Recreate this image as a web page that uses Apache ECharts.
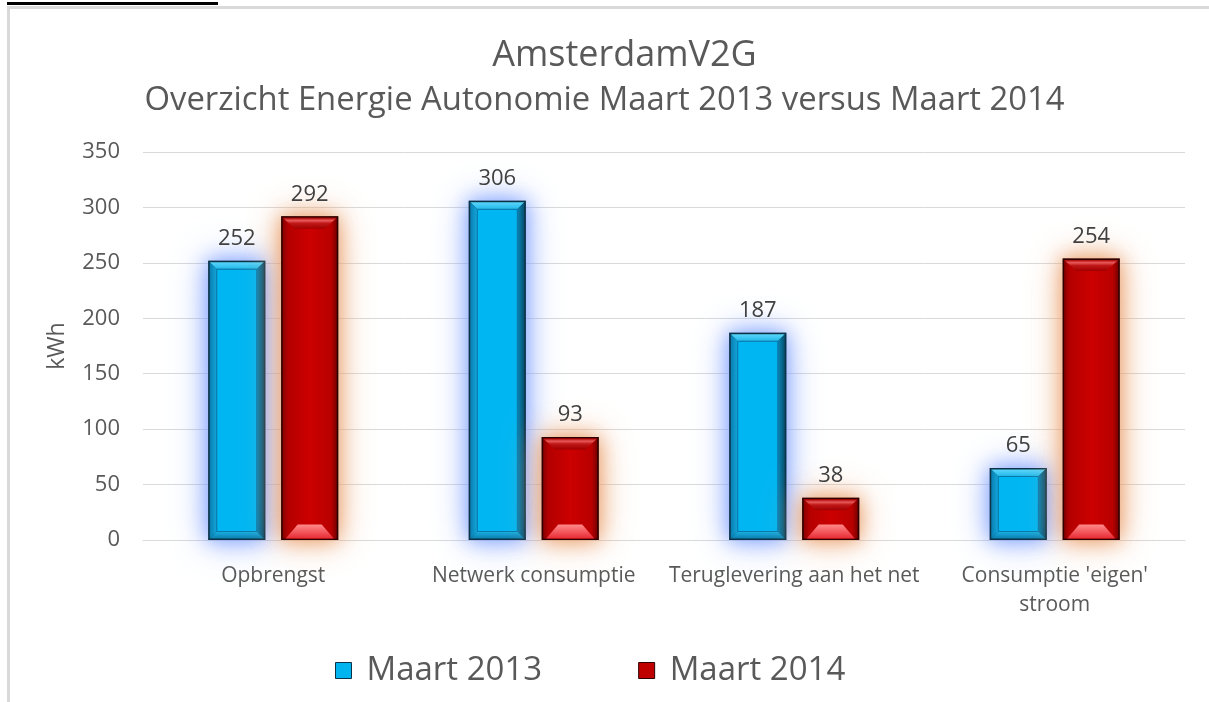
<!DOCTYPE html>
<html><head><meta charset="utf-8">
<script src="https://cdn.jsdelivr.net/npm/echarts@6/dist/echarts.min.js"></script>
<style>html,body{margin:0;padding:0;background:#fff}#c{width:1209px;height:702px}</style>
</head><body><div id="c"></div>
<script>
const categories = ['Opbrengst', 'Netwerk consumptie', 'Teruglevering aan het net', "Consumptie 'eigen'\nstroom"];
const maart2013 = [252, 306, 187, 65];
const maart2014 = [292, 93, 38, 254];
const seriesNames = ['Maart 2013', 'Maart 2014'];
const titleLine1 = 'AmsterdamV2G';
const titleLine2 = 'Overzicht Energie Autonomie Maart 2013 versus Maart 2014';
const yName = 'kWh';

const FONT = 'Open Sans';
const chart = echarts.init(document.getElementById('c'), null, {renderer: 'canvas'});

function vgrad(c0, c1) {
  return new echarts.graphic.LinearGradient(0, 0, 0, 1, [{offset: 0, color: c0}, {offset: 1, color: c1}]);
}
function hgrad(stops) {
  return new echarts.graphic.LinearGradient(0, 0, 1, 0, stops);
}

const styles = [
  {glow: 'rgba(120,155,255,0.85)', glow2: 'rgba(140,170,255,0.8)', border: '#0b3246'},
  {glow: 'rgba(232,150,95,0.85)', glow2: 'rgba(238,170,120,0.8)', border: '#2e0000'}
];

function makeRender(si) {
  return function (params, api) {
    const cat = api.value(0), v = api.value(1);
    const band = api.size([1, 0])[0];
    const w = band * 0.219;
    const off = band * 0.14 * (si === 0 ? -1 : 1);
    const pBase = api.coord([cat, 0]);
    const pTop = api.coord([cat, v]);
    const cx = pBase[0] + off;
    const x0 = cx - w / 2, x1 = cx + w / 2, y0 = pTop[1], y1 = pBase[1];
    const h = y1 - y0;
    const st = styles[si];
    const children = [];
    children.push({type: 'rect', shape: {x: x0, y: y0, width: w, height: h},
      style: {fill: st.border, shadowBlur: 36, shadowColor: st.glow2}});
    children.push({type: 'rect', shape: {x: x0, y: y0, width: w, height: h},
      style: {fill: st.border, shadowBlur: 18, shadowColor: st.glow}});
    const b = 1.5;
    const ix0 = x0 + b, ix1 = x1 - b, iy0 = y0 + b, iy1 = y1 - b;
    if (si === 0) {
      const d = 7;
      children.push({type: 'polygon', shape: {points: [[ix0, iy0], [ix1, iy0], [ix1 - d, iy0 + d], [ix0 + d, iy0 + d]]}, style: {fill: vgrad('#5ad6fb', '#22b8ea')}});
      children.push({type: 'polygon', shape: {points: [[ix0, iy0], [ix0 + d, iy0 + d], [ix0 + d, iy1 - d], [ix0, iy1]]}, style: {fill: hgrad([{offset: 0, color: '#0a7fb2'}, {offset: 1, color: '#13a6da'}])}});
      children.push({type: 'polygon', shape: {points: [[ix1, iy0], [ix1, iy1], [ix1 - d, iy1 - d], [ix1 - d, iy0 + d]]}, style: {fill: hgrad([{offset: 0, color: '#0a86b8'}, {offset: 1, color: '#064f6e'}])}});
      children.push({type: 'polygon', shape: {points: [[ix0, iy1], [ix0 + d, iy1 - d], [ix1 - d, iy1 - d], [ix1, iy1]]}, style: {fill: vgrad('#1ab0e4', '#0a7fb0')}});
      children.push({type: 'rect', shape: {x: ix0 + d, y: iy0 + d, width: ix1 - ix0 - 2 * d, height: Math.max(0, iy1 - iy0 - 2 * d)},
        style: {fill: '#00b6f2', stroke: '#0a78a8', lineWidth: 1}});
    } else {
      children.push({type: 'rect', shape: {x: ix0, y: iy0, width: ix1 - ix0, height: iy1 - iy0},
        style: {fill: hgrad([{offset: 0, color: '#8a0000'}, {offset: 0.1, color: '#b40000'}, {offset: 0.5, color: '#cc0000'}, {offset: 0.9, color: '#b80000'}, {offset: 1, color: '#7a0000'}])}});
      const dt = 11, it = 12;
      children.push({type: 'polygon', shape: {points: [[ix0, iy0], [ix1, iy0], [ix1 - it, iy0 + dt], [ix0 + it, iy0 + dt]]},
        style: {fill: new echarts.graphic.LinearGradient(0, 0, 0, 1, [{offset: 0, color: '#a80000'}, {offset: 0.25, color: '#e85a5a'}, {offset: 0.5, color: '#c01818'}, {offset: 1, color: '#a00000'}])}});
      const db = 14, ib = 15;
      children.push({type: 'polygon', shape: {points: [[ix0 + 3, iy1], [ix0 + ib, iy1 - db], [ix1 - ib, iy1 - db], [ix1 - 3, iy1]]},
        style: {fill: vgrad('#ff8a8a', '#e82a34')}});
    }
    children.push({type: 'text', x: cx, y: y0 - 11,
      style: {text: String(v), fontFamily: FONT, fontSize: 22, fill: '#404040', align: 'center', verticalAlign: 'bottom'}});
    return {type: 'group', children: children};
  };
}

const data2013 = maart2013.map((v, i) => [i, v]);
const data2014 = maart2014.map((v, i) => [i, v]);

chart.setOption({
  animation: false,
  title: {
    text: '{a|' + titleLine1 + '}\n{b|' + titleLine2 + '}', left: 'center', top: 29,
    textStyle: {
      fontWeight: 'normal',
      rich: {
        a: {fontFamily: FONT, fontSize: 36, fontWeight: 'normal', color: '#595959', lineHeight: 44, padding: [0, 0, 0, 40]},
        b: {fontFamily: FONT, fontSize: 32.8, fontWeight: 'normal', color: '#595959', lineHeight: 46}
      }
    }
  },
  legend: {
    bottom: 10, left: 330, itemGap: 96, itemWidth: 16, itemHeight: 16,
    textStyle: {fontFamily: FONT, fontSize: 33, color: '#595959', padding: [0, 0, 0, 10]},
    data: [
      {name: seriesNames[0], icon: 'rect', itemStyle: {color: '#00b4f0', borderColor: '#0b3246', borderWidth: 1}},
      {name: seriesNames[1], icon: 'rect', itemStyle: {color: '#c00000', borderColor: '#2e0000', borderWidth: 1}}
    ]
  },
  grid: {left: 143, right: 24, top: 152, bottom: 162},
  xAxis: {
    type: 'category', data: categories,
    axisLine: {lineStyle: {color: '#d9d9d9'}}, axisTick: {show: false},
    axisLabel: {fontFamily: FONT, fontSize: 21, color: '#595959', margin: 22, lineHeight: 29, interval: 0}
  },
  yAxis: {
    type: 'value', min: 0, max: 350, interval: 50,
    name: yName, nameLocation: 'middle', nameGap: 74, nameRotate: 90,
    nameTextStyle: {fontFamily: FONT, fontSize: 23, color: '#595959'},
    axisLabel: {fontFamily: FONT, fontSize: 22, color: '#595959', margin: 23},
    splitLine: {lineStyle: {color: '#d9d9d9'}},
    axisLine: {show: false}, axisTick: {show: false}
  },
  series: [
    {name: seriesNames[0], type: 'custom', renderItem: makeRender(0), data: data2013,
      encode: {x: 0, y: 1}, itemStyle: {color: '#00b4f0'}},
    {name: seriesNames[1], type: 'custom', renderItem: makeRender(1), data: data2014,
      encode: {x: 0, y: 1}, itemStyle: {color: '#c00000'}}
  ],
  graphic: [
    {type: 'rect', shape: {x: 7, y: 2, width: 211, height: 3}, style: {fill: '#000'}},
    {type: 'rect', shape: {x: 7, y: 6, width: 1202, height: 3}, style: {fill: '#d9d9d9'}},
    {type: 'rect', shape: {x: 7, y: 6, width: 3, height: 696}, style: {fill: '#d9d9d9'}}
  ]
});
</script></body></html>
